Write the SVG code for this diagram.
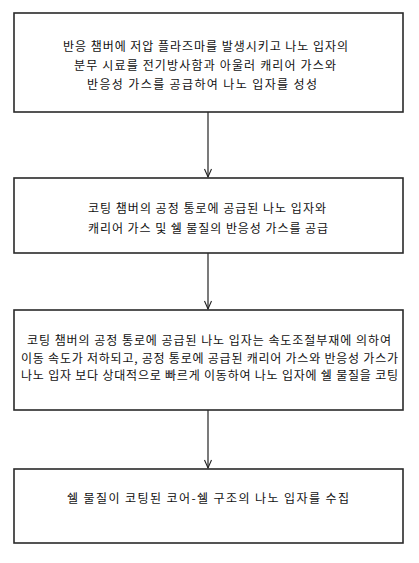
<svg xmlns="http://www.w3.org/2000/svg" width="419" height="563" viewBox="0 0 419 563">
<style>
.box{fill:#fff;stroke:#2a2a2a;stroke-width:1.6}
.t{font-family:"Noto Sans CJK KR","Liberation Sans",sans-serif;font-size:12px;fill:#111;dominant-baseline:central}
.c{stroke:#222;stroke-width:1.2;fill:none}
</style>
<defs>
<marker id="ah" markerWidth="12" markerHeight="10" refX="10" refY="5" orient="auto" markerUnits="userSpaceOnUse" viewBox="0 0 12 10">
<path d="M2,1.5 L10,5 L2,8.5" fill="none" stroke="#222" stroke-width="1.1"/>
</marker>
</defs>
<rect width="419" height="563" fill="#fff"/>
<g id="connectors">
<line class="c" x1="208" y1="112" x2="208" y2="177" marker-end="url(#ah)"/>
<line class="c" x1="208" y1="253" x2="208" y2="309" marker-end="url(#ah)"/>
<line class="c" x1="208" y1="410" x2="208" y2="468" marker-end="url(#ah)"/>
</g>
<g id="node1">
<rect class="box" x="14" y="13" width="389" height="99"/>
<text class="t" x="63" y="45" textLength="285" lengthAdjust="spacing">반응 챔버에 저압 플라즈마를 발생시키고 나노 입자의</text>
<text class="t" x="74" y="64" textLength="262" lengthAdjust="spacing">분무 시료를 전기방사함과 아울러 캐리어 가스와</text>
<text class="t" x="87" y="83" textLength="230" lengthAdjust="spacing">반응성 가스를 공급하여 나노 입자를 성성</text>
</g>
<g id="node2">
<rect class="box" x="14" y="178" width="389" height="75"/>
<text class="t" x="88" y="207" textLength="238" lengthAdjust="spacing">코팅 챔버의 공정 통로에 공급된 나노 입자와</text>
<text class="t" x="88" y="227" textLength="240" lengthAdjust="spacing">캐리어 가스 및 쉘 물질의 반응성 가스를 공급</text>
</g>
<g id="node3">
<rect class="box" x="14" y="310" width="389" height="100"/>
<text class="t" x="27" y="339.5" textLength="364" lengthAdjust="spacing">코팅 챔버의 공정 통로에 공급된 나노 입자는 속도조절부재에 의하여</text>
<text class="t" x="21" y="357" textLength="377" lengthAdjust="spacing">이동 속도가 저하되고, 공정 통로에 공급된 캐리어 가스와 반응성 가스가</text>
<text class="t" x="21" y="374.5" textLength="377" lengthAdjust="spacing">나노 입자 보다 상대적으로 빠르게 이동하여 나노 입자에 쉘 물질을 코팅</text>
</g>
<g id="node4">
<rect class="box" x="14" y="469" width="389" height="74"/>
<text class="t" x="67" y="497" textLength="282" lengthAdjust="spacing">쉘 물질이 코팅된 코어-쉘 구조의 나노 입자를 수집</text>
</g>
</svg>
